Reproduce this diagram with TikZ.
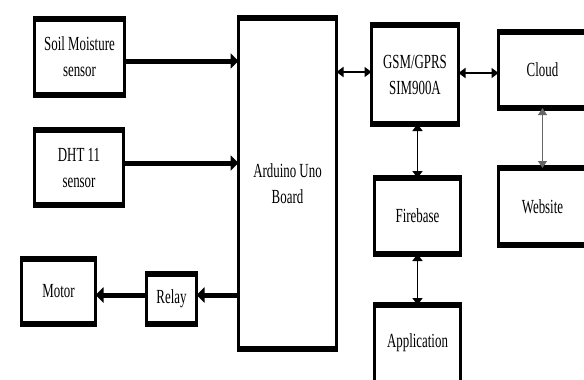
\documentclass[tikz,border=0pt]{standalone}
\usepackage{fontspec}
\newfontfamily\lab[FakeStretch=0.645]{Liberation Serif}
\usetikzlibrary{arrows.meta}
\begin{document}
\begin{tikzpicture}[x=1pt,y=-1pt,
  box/.style={draw, line width=3pt, outer sep=0pt, inner sep=0pt, align=center,
    font=\lab\fontsize{20}{26}\selectfont},
  edgebar/.style={line width=5.5pt, shorten <=-1.5pt, shorten >=-1.5pt},
  bigarrow/.style={line width=5pt, -{Triangle[length=8pt,width=15pt]}},
  thinarrow/.style={line width=1.5pt, {Triangle[length=7pt,width=10pt]}-{Triangle[length=7pt,width=10pt]}},
  grayarrow/.style={line width=1.2pt, draw=black!60, {Triangle[length=7pt,width=9pt]}-{Triangle[length=7pt,width=9pt]}}]
\useasboundingbox (0,0) rectangle (584,380);
\clip (0,0) rectangle (584,380);
\fill[white] (0,0) rectangle (584,380);

\node[box, minimum width=90pt, minimum height=76pt] (soil) at (79.5,57) {Soil Moisture\\sensor};
\node[box, minimum width=89pt, minimum height=75pt] (dht) at (79,167.5) {DHT 11\\sensor};
\node[box, minimum width=98pt, minimum height=331pt] (ard) at (287.5,183.5) {Arduino Uno\\Board};
\node[box, minimum width=74pt, minimum height=65pt] (motor) at (58.5,291.5) {Motor};
\node[box, minimum width=50pt, minimum height=50pt] (relay) at (171.5,299) {Relay};
\node[box, minimum width=87pt, minimum height=99pt] (gsm) at (415,74.5) {GSM/GPRS\\SIM900A};
\node[box, minimum width=88pt, minimum height=76pt] (cloud) at (542.5,70) {Cloud};
\node[box, minimum width=86pt, minimum height=76pt] (fire) at (417.5,216) {Firebase};
\node[box, minimum width=88pt, minimum height=77pt] (web) at (542.5,206.5) {Website};
\node[box, minimum width=86pt, minimum height=84pt] (app) at (417.5,347) {\raisebox{12pt}{Application}};

\foreach \n in {soil,dht,ard,motor,relay,gsm,cloud,fire,web,app}{
  \draw[edgebar] (\n.north west) -- (\n.north east);
  \draw[edgebar] (\n.south west) -- (\n.south east);
}

\draw[bigarrow] ([yshift=-4pt]soil.east) -- ([yshift=-4pt]soil.east -| ard.west);
\draw[bigarrow] ([yshift=4.5pt]dht.east) -- ([yshift=4.5pt]dht.east -| ard.west);
\draw[bigarrow] ([yshift=4pt]relay.east -| ard.west) -- ([yshift=4pt]relay.east);
\draw[bigarrow] ([yshift=4pt]relay.west) -- ([yshift=4pt]relay.west -| motor.east);

\draw[thinarrow] ([yshift=2.5pt]gsm.west -| ard.east) -- ([yshift=2.5pt]gsm.west);
\draw[thinarrow] ([yshift=1.5pt]gsm.east) -- ([yshift=1.5pt]gsm.east -| cloud.west);
\draw[thinarrow] (fire.north |- gsm.south) -- (fire.north);
\draw[thinarrow] (fire.south) -- (app.north);
\draw[grayarrow] (cloud.south) -- (web.north);
\end{tikzpicture}
\end{document}
